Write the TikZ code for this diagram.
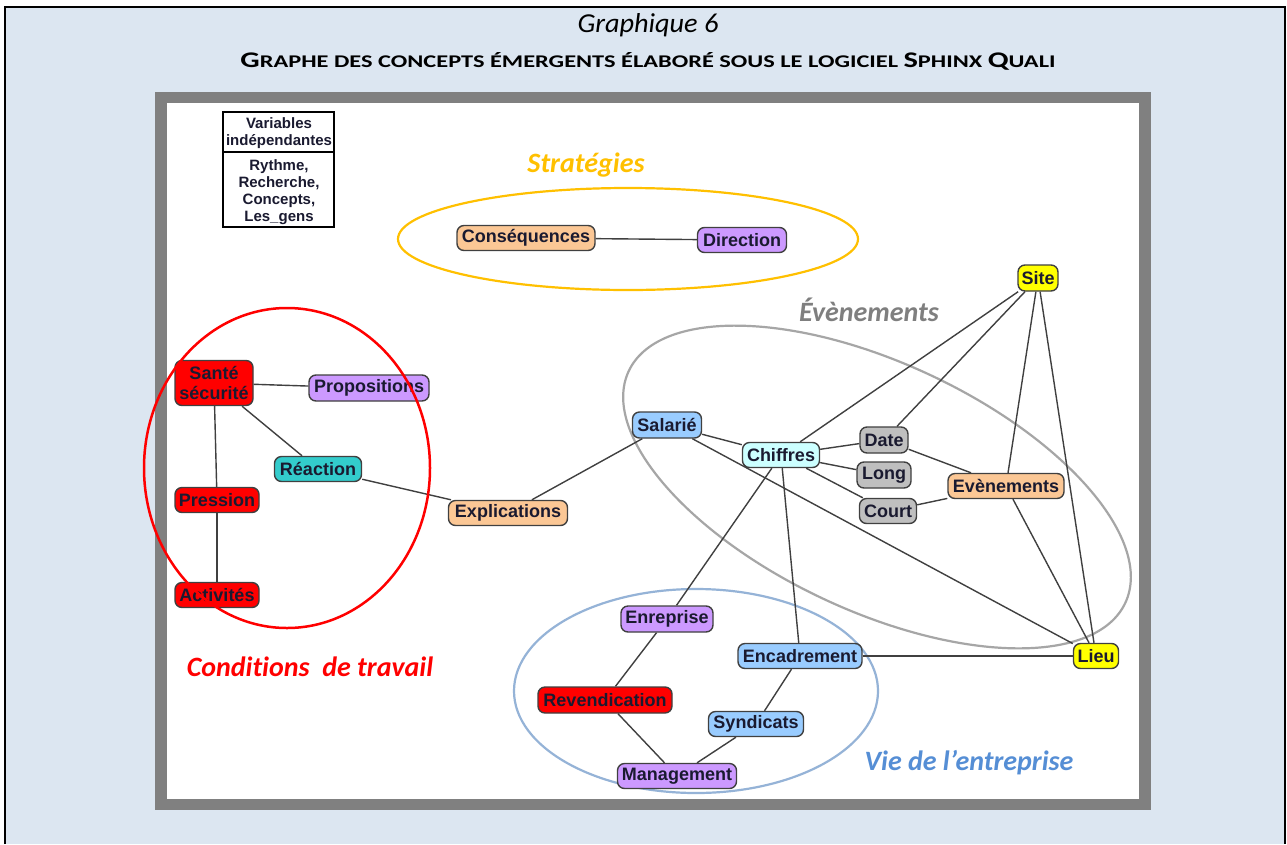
\documentclass[tikz,border=0pt]{standalone}
\usepackage{fontspec}
\setmainfont{Liberation Sans}
\newfontfamily\calib[Ligatures=NoCommon]{Carlito}
\definecolor{bgblue}{HTML}{DCE6F1}
\definecolor{framegray}{HTML}{808080}
\definecolor{cpeach}{HTML}{FBC795}
\definecolor{cviolet}{HTML}{CC99FF}
\definecolor{cteal}{HTML}{33CCCC}
\definecolor{cred}{HTML}{FF0000}
\definecolor{cblue}{HTML}{99CCFF}
\definecolor{ccyan}{HTML}{CCFFFF}
\definecolor{cgray}{HTML}{BFBFBF}
\definecolor{cyellow}{HTML}{FFFF00}
\definecolor{edgec}{HTML}{404040}
\definecolor{txtc}{HTML}{1A1A30}
\definecolor{corange}{HTML}{FFC000}
\definecolor{ellgray}{HTML}{A6A6A6}
\definecolor{lblgray}{HTML}{7F7F7F}
\definecolor{ellblue}{HTML}{95B3D7}
\definecolor{lblblue}{HTML}{558ED5}
\newcommand{\bigc}[1]{{\fontsize{20}{22}\selectfont #1}}
\tikzset{
  cnode/.style={draw=edgec, line width=1.4pt, rounded corners=7pt,
    font=\fontsize{18}{20}\selectfont\bfseries, text=txtc, inner sep=0pt,
    minimum height=25pt},
  cedge/.style={draw=edgec, line width=1.4pt},
  grouplbl/.style={font=\calib\bfseries\itshape\fontsize{28}{30}\selectfont, inner sep=0pt},
  legtxt/.style={font=\fontsize{15}{17}\selectfont\bfseries, text=txtc, align=center, inner sep=0pt},
  grpell/.style={line width=2.2pt},
}
\begin{document}
\begin{tikzpicture}[x=1pt,y=-1pt]
\useasboundingbox (0,0) rectangle (1287,844);
% background and frames
\fill[white] (0,0) rectangle (1287,844);
\fill[bgblue] (5,7) rectangle (1285,844);
\draw[black, line width=2.5pt] (5,844) -- (5,7) -- (1285,7) -- (1285,844);
\fill[framegray] (155,92) rectangle (1151,810);
\fill[white] (167,103) rectangle (1139,799);
% title
\node[anchor=base, inner sep=0pt] (t1) at (648,32)
  {\resizebox{141pt}{19pt}{\calib\itshape Graphique 6}};
\node[anchor=base, inner sep=0pt] (t2) at (648,67)
  {\resizebox{815pt}{15pt}{\calib\bfseries\fontsize{16}{18}\selectfont \bigc{G}RAPHE DES CONCEPTS ÉMERGENTS ÉLABORÉ SOUS LE LOGICIEL \bigc{S}PHINX \bigc{Q}UALI}};
% legend
\node[draw=black, line width=1.3pt, minimum width=111pt, minimum height=115pt, inner sep=0pt] (legend) at (278.5,169.5) {};
\coordinate (ldiv) at (0,152);
\draw[black, line width=1.3pt] (legend.west |- ldiv) -- (legend.east |- ldiv);
\node[legtxt] (lhead) at (279,133) {Variables\\indépendantes};
\node[legtxt] (lbody) at (279,192) {Rythme,\\Recherche,\\Concepts,\\Les\_gens};
% group ellipses (behind)
\draw[corange, grpell] (628,239) ellipse [x radius=230pt, y radius=51pt];
\draw[ellgray, grpell, rotate around={-25:(877,487)}] (877,487) ellipse [x radius=274pt, y radius=124pt];
\draw[ellblue, grpell] (696,691) ellipse [x radius=182pt, y radius=102pt];
% group labels
\node[grouplbl, text=corange] (lstrat) at (586,165) {Stratégies};
\node[grouplbl, text=lblgray] (lev) at (869,310) {Évènements};
\node[grouplbl, text=cred] (lcond) at (310,667) {Conditions\ \ de travail};
\node[grouplbl, text=lblblue] (lvie) at (969,763) {Vie de l’entreprise};
% nodes
\node[cnode, fill=cpeach, minimum width=138pt] (cons) at (526,238) {Conséquences};
\node[cnode, fill=cviolet, minimum width=89pt] (dir) at (742,240) {Direction};
\node[cnode, fill=cred, minimum width=78pt, minimum height=45pt, align=center] (sante) at (214,383) {Santé\\sécurité};
\node[cnode, fill=cviolet, minimum width=120pt, minimum height=26pt] (prop) at (369,388) {Propositions};
\node[cnode, fill=cteal, minimum width=87pt] (reac) at (318,469) {Réaction};
\node[cnode, fill=cred, minimum width=84pt] (press) at (217,500) {Pression};
\node[cnode, fill=cred, minimum width=84pt] (activ) at (217,595) {Activités};
\node[cnode, fill=cpeach, minimum width=119pt] (expl) at (508,513) {Explications};
\node[cnode, fill=cyellow, minimum width=40pt, minimum height=26pt] (site) at (1038,278) {Site};
\node[cnode, fill=cblue, minimum width=69pt, minimum height=26pt] (sal) at (667,425) {Salarié};
\node[cnode, fill=ccyan, minimum width=77pt] (chif) at (781,455) {Chiffres};
\node[cnode, fill=cgray, minimum width=48pt, minimum height=26pt] (date) at (884,440) {Date};
\node[cnode, fill=cgray, minimum width=54pt, minimum height=26pt] (long) at (884,475) {Long};
\node[cnode, fill=cgray, minimum width=57pt] (court) at (888,511) {Court};
\node[cnode, fill=cpeach, minimum width=116pt] (even) at (1006,486) {Evènements};
\node[cnode, fill=cviolet, minimum width=92pt, minimum height=26pt] (enr) at (667,619) {Enreprise};
\node[cnode, fill=cblue, minimum width=124pt] (encad) at (800,656) {Encadrement};
\node[cnode, fill=cred, minimum width=134pt, minimum height=26pt] (rev) at (605,700) {Revendication};
\node[cnode, fill=cblue, minimum width=95pt] (synd) at (756,724) {Syndicats};
\node[cnode, fill=cviolet, minimum width=119pt] (mgmt) at (677,776) {Management};
\node[cnode, fill=cyellow, minimum width=45pt] (lieu) at (1096,656) {Lieu};
% edges
\draw[cedge] (cons) -- (dir);
\draw[cedge] (sante) -- (prop);
\draw[cedge] (sante) -- (reac);
\draw[cedge] (sante) -- (press);
\draw[cedge] (press) -- (activ);
\draw[cedge] (reac) -- (expl);
\draw[cedge] (expl) -- (sal);
\draw[cedge] (sal) -- (chif);
\draw[cedge] (sal) -- (lieu);
\draw[cedge] (chif) -- (site);
\draw[cedge] (date) -- (site);
\draw[cedge] (chif) -- (date);
\draw[cedge] (chif) -- (long);
\draw[cedge] (chif) -- (court);
\draw[cedge] (date) -- (even);
\draw[cedge] (court) -- (even);
\draw[cedge] (site) -- (even);
\draw[cedge] (site) -- (lieu);
\draw[cedge] (even) -- (lieu);
\draw[cedge] (chif) -- (enr);
\draw[cedge] (chif) -- (encad);
\draw[cedge] (encad) -- (lieu);
\draw[cedge] (encad) -- (synd);
\draw[cedge] (synd) -- (mgmt);
\draw[cedge] (rev) -- (mgmt);
\draw[cedge] (enr) -- (rev);
% red ellipse on top
\draw[cred, line width=2.5pt] (287,468) ellipse [x radius=143pt, y radius=160pt];
\end{tikzpicture}
\end{document}
